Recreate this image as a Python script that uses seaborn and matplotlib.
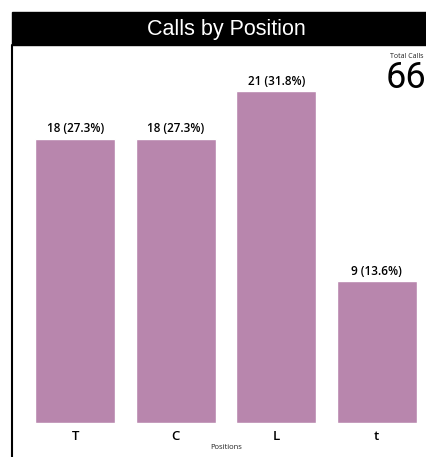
import seaborn as sns
import matplotlib.pyplot as plt
from matplotlib.patches import Rectangle
from matplotlib.lines import Line2D

positions = ["T", "C", "L", "t"]
calls = [18, 18, 21, 9]
total_calls = sum(calls)

sns.set_style("white")
plt.rcParams['font.family'] = ['Open Sans', 'DejaVu Sans']

W, H = 427, 457
fig = plt.figure(figsize=(W / 100, H / 100), dpi=100)

# black title band and left border
fig.patches.append(Rectangle((12 / W, 1 - 45 / H), 1 - 12 / W, 33 / H,
                             transform=fig.transFigure, color="black", zorder=0))
fig.lines.append(Line2D([12 / W, 12 / W], [0, 1 - 45 / H], transform=fig.transFigure,
                        color="black", lw=1.5))
fig.text(226 / W, 1 - 29 / H, "Calls by Position", color="white",
         ha="center", va="center", fontsize=15.5, family="Liberation Sans")

# axes: baseline at y=423px, bars from x=35 to 417
bottom = 1 - 423 / H
top = 1 - 60 / H
ax = fig.add_axes([35 / W, bottom, (417 - 35) / W, top - bottom])
sns.barplot(x=positions, y=calls, color="#b886ad", saturation=1, width=0.8, ax=ax)
ax.set_xlim(-0.4, 3.4)
ax.set_ylim(0, (423 - 60) / 15.8)

for i, v in enumerate(calls):
    ax.text(i, v + 0.2, f"{v} ({v / total_calls * 100:.1f}%)", ha="center", va="bottom",
            fontsize=8.5, color="black", fontweight="semibold")

ax.set_yticks([])
ax.tick_params(axis="x", length=0, pad=5, labelsize=9.5, labelcolor="black")
for lab in ax.get_xticklabels():
    lab.set_fontweight("semibold")
ax.set_xlabel("Positions", fontsize=5.5, labelpad=1, color="#222222")
ax.set_ylabel("")
sns.despine(ax=ax, left=True, bottom=True)

fig.text(424 / W, 1 - 57 / H, "Total Calls", ha="right", va="center", fontsize=5,
         color="#222222")
fig.text(426 / W, 1 - 78 / H, str(total_calls), ha="right", va="center", fontsize=26,
         family="Roboto", color="black")

fig.savefig("out.png", dpi=100)
